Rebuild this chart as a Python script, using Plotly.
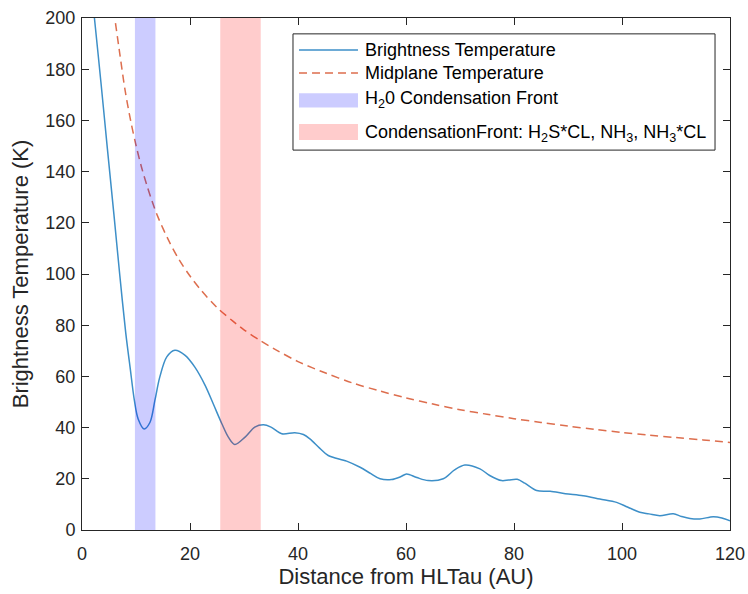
import plotly.graph_objects as go

# Radial brightness temperature profile of the HL Tau disk (AU, K)
bright_r = [2.1, 2.3, 3.5, 4.7, 5.9, 7.0, 8.1, 8.9, 9.7, 10.4, 11.5, 12.6, 13.5,
            14.4, 15.7, 17.2, 19.1, 20.9, 22.8, 24.3, 25.9, 27.1, 28.3, 30.2, 32.0,
            33.6, 35.0, 37.0, 39.4, 41.0, 42.2, 44.0, 45.6, 49.0, 51.5,
            53.5, 55.2, 57.3, 59.0, 60.1, 62.0, 64.1, 66.9, 69.0, 70.9, 73.7, 75.5,
            77.7, 79.0, 80.6, 82.0, 84.2, 86.7, 89.5, 92.8, 95.9, 99.0, 101.0, 103.3,
            105.0, 107.0, 109.5, 111.0, 112.6, 114.4, 116.9, 118.5, 120.0]
bright_t = [204, 200, 175, 149, 123.5, 99.5, 77, 63.6, 50.6, 43.4, 39.5, 42.1, 50.6,
            59.7, 67.6, 70.2, 68.2, 63.6, 56.5, 49.3, 41.5, 36.3, 33.4, 36.3, 40.2,
            41.1, 40.2, 37.6, 38.0, 37.3, 35.6, 32.0, 29.1, 26.9, 24.5,
            22.0, 20.0, 19.7, 20.8, 21.9, 20.5, 19.3, 20.0, 23.5, 25.4, 23.9, 21.3,
            19.3, 19.5, 19.8, 18.3, 15.4, 15.1, 14.2, 13.4, 12.1, 10.8, 9.0, 6.9,
            6.3, 5.6, 6.3, 5.3, 4.5, 4.3, 5.2, 4.7, 3.6]

# Midplane temperature model (AU, K)
mid_r = [6.2, 7, 8, 9, 10, 11, 12, 13, 14, 16, 18, 20, 22, 25, 28, 30, 33, 36, 40, 45,
         50, 55, 60, 65, 70, 75, 80, 85, 90, 95, 100, 105, 110, 115, 120]
mid_t = [198, 186, 171.5, 160, 150.3, 141.9, 134.7, 128.3, 122.6, 113.3, 105.5, 99.2,
         93.8, 86.9, 81.5, 78.2, 74.0, 70.3, 65.8, 61.4, 57.5, 54.4, 51.6, 49.2, 47.0,
         45.2, 43.5, 42.0, 40.6, 39.3, 38.1, 37.1, 36.1, 35.2, 34.2]

# Condensation front extents (AU)
h2o_front = [9.8, 13.6]
nh3_front = [25.6, 33.1]

x_range = [0, 120]
y_range = [0, 200]
x_ticks = [0, 20, 40, 60, 80, 100, 120]
y_ticks = [0, 20, 40, 60, 80, 100, 120, 140, 160, 180, 200]

legend_labels = [
    "Brightness Temperature",
    "Midplane Temperature",
    "H<sub>2</sub>0 Condensation Front",
    "CondensationFront: H<sub>2</sub>S*CL, NH<sub>3</sub>, NH<sub>3</sub>*CL",
]

FONT = "Liberation Sans, Arial, Helvetica, sans-serif"
INK = "#262626"
BLUE = "#3d8fc8"
ORANGE = "#dd6e4e"
BAND_BLUE = "rgba(0,0,255,0.2)"
BAND_RED = "rgba(255,0,0,0.2)"

fig = go.Figure()

fig.add_trace(go.Scatter(
    x=bright_r, y=bright_t, mode="lines", name=legend_labels[0],
    line=dict(color=BLUE, width=1.5, shape="spline", smoothing=0.9),
))
fig.add_trace(go.Scatter(
    x=mid_r, y=mid_t, mode="lines", name=legend_labels[1],
    line=dict(color=ORANGE, width=1.5, dash="8px,5px", shape="spline", smoothing=0.9),
))


def band(extent, color, name):
    lo, hi = y_range
    return go.Scatter(
        x=[extent[0], extent[0], extent[1], extent[1], extent[0]],
        y=[lo, hi, hi, lo, lo],
        mode="lines", fill="toself", fillcolor=color,
        line=dict(width=0, color=color), name=name, hoverinfo="skip",
    )


# translucent bands drawn over the curves
fig.add_trace(band(h2o_front, BAND_BLUE, legend_labels[2]))
fig.add_trace(band(nh3_front, BAND_RED, legend_labels[3]))

# hand-laid legend box with wide swatches
lx0, lx1 = 0.3256, 0.9769
ly0, ly1 = 0.742, 0.969
sx0, sx1 = 0.3349, 0.4259
tx = 0.4336
shapes = [
    dict(type="rect", xref="paper", yref="paper", x0=lx0, x1=lx1, y0=ly0, y1=ly1,
         line=dict(color=INK, width=1), fillcolor="white", layer="above"),
    dict(type="line", xref="paper", yref="paper", x0=sx0, x1=sx1, y0=0.9375, y1=0.9375,
         line=dict(color=BLUE, width=1.5), layer="above"),
    dict(type="line", xref="paper", yref="paper", x0=sx0, x1=sx1, y0=0.8926, y1=0.8926,
         line=dict(color=ORANGE, width=1.5, dash="8px,5px"), layer="above"),
    dict(type="rect", xref="paper", yref="paper", x0=sx0, x1=sx1, y0=0.8252, y1=0.8529,
         line=dict(width=0), fillcolor=BAND_BLUE, layer="above"),
    dict(type="rect", xref="paper", yref="paper", x0=sx0, x1=sx1, y0=0.7617, y1=0.793,
         line=dict(width=0), fillcolor=BAND_RED, layer="above"),
]
label_y = [0.9375, 0.8926, 0.841, 0.7745]
annotations = [
    dict(text=t, x=tx, y=yy, xref="paper", yref="paper", xanchor="left", yanchor="middle",
         showarrow=False, font=dict(family=FONT, size=18, color="#000000"))
    for t, yy in zip(legend_labels, label_y)
]

fig.update_layout(
    width=748, height=594,
    margin=dict(l=82, r=18, t=18, b=64),
    paper_bgcolor="white", plot_bgcolor="white",
    showlegend=False,
    font=dict(family=FONT, size=18, color=INK),
    shapes=shapes, annotations=annotations,
)
axis_common = dict(
    showline=True, linecolor=INK, linewidth=1, mirror="ticks",
    ticks="inside", ticklen=7, tickcolor=INK, tickwidth=1,
    showgrid=False, zeroline=False,
    tickfont=dict(family=FONT, size=18, color=INK),
)
fig.update_xaxes(
    range=x_range, tickvals=x_ticks, automargin=False, ticklabelstandoff=7,
    title=dict(text="Distance from HLTau (AU)", font=dict(family=FONT, size=22, color=INK), standoff=5),
    **axis_common,
)
fig.update_yaxes(
    range=y_range, tickvals=y_ticks, automargin=False, ticklabelstandoff=2,
    title=dict(text="Brightness Temperature (K)", font=dict(family=FONT, size=22, color=INK), standoff=10),
    **axis_common,
)

fig.write_html("out.html")
